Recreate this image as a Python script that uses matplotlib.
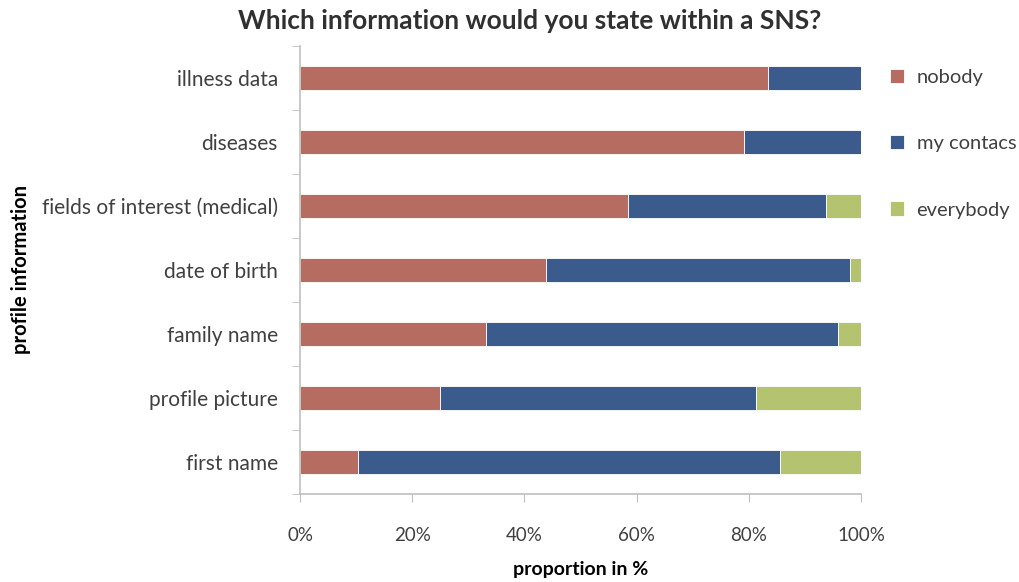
import matplotlib.pyplot as plt
from matplotlib.ticker import FixedLocator, PercentFormatter
import numpy as np

# Survey answers, share of respondents per answer (%), bottom row first
categories = ["first name", "profile picture", "family name", "date of birth",
              "fields of interest (medical)", "diseases", "illness data"]
nobody = [10.3, 25.0, 33.1, 43.8, 58.4, 79.1, 83.4]
my_contacs = [75.3, 56.3, 62.8, 54.3, 35.3, 20.9, 16.6]
everybody = [14.4, 18.7, 4.1, 1.9, 6.3, 0.0, 0.0]

series = [("nobody", nobody, "#b56d61"),
          ("my contacs", my_contacs, "#3b5b8c"),
          ("everybody", everybody, "#b3c36f")]

plt.rcParams['font.family'] = ['Lato', 'DejaVu Sans']

fig = plt.figure(figsize=(10.19, 5.82), dpi=100)
ax = fig.add_axes([300 / 1019, 1 - 494 / 582, 561 / 1019, 448 / 582])

y = np.arange(len(categories))
left = np.zeros(len(categories))
for name, vals, col in series:
    vals = np.array(vals)
    ax.barh(y, vals, left=left, height=0.39, color=col, edgecolor="white",
            linewidth=0.6, label=name)
    left += vals

ax.set_xlim(0, 100)
ax.set_ylim(-0.5, len(categories) - 0.5)
ax.set_xticks(np.arange(0, 101, 20))
ax.xaxis.set_major_formatter(PercentFormatter(decimals=0))
ax.set_yticks(y)
ax.set_yticklabels(categories)
ax.yaxis.set_minor_locator(FixedLocator(np.arange(-0.5, len(categories), 1)))

grey = "#bfbfbf"
for s in ["top", "right"]:
    ax.spines[s].set_visible(False)
for s in ["left", "bottom"]:
    ax.spines[s].set_color(grey)
    ax.spines[s].set_linewidth(1.2)

ax.tick_params(axis="x", length=6, color=grey, pad=18, labelsize=13.5, labelcolor="#404040")
ax.tick_params(axis="y", which="major", length=0, pad=16, labelsize=15, labelcolor="#404040")
ax.tick_params(axis="y", which="minor", length=6, color=grey)

ax.set_xlabel("proportion in %", fontsize=14, fontweight="bold", labelpad=12)
ax.set_ylabel("profile information", fontsize=14.5, fontweight="bold", labelpad=8)
fig.suptitle("Which information would you state within a SNS?", fontsize=19,
             fontweight="bold", color="#303030", x=0.52, y=0.985)

ax.legend(loc="upper left", bbox_to_anchor=(1.02, 0.99), frameon=False,
          fontsize=14.5, labelspacing=2.45, handlelength=0.7, handleheight=0.7,
          handletextpad=0.6, labelcolor="#404040")

fig.savefig("out.png", dpi=100)
